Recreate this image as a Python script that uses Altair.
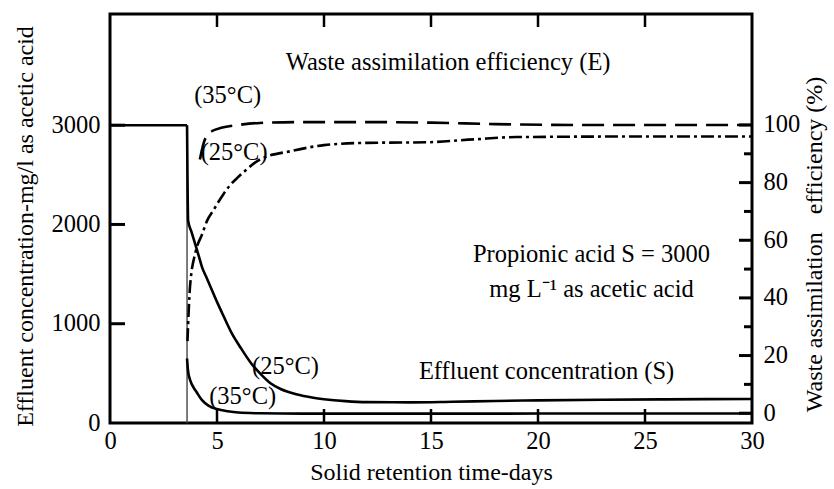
import altair as alt
import pandas as pd

# ---------------- data ----------------
days_ticks = [0, 5, 10, 15, 20, 25, 30]
s_ticks = [0, 1000, 2000, 3000]
e_ticks = [0, 20, 40, 60, 80, 100]
e_minor = [10, 30, 50, 70, 90]
inner_day_ticks = [5, 10, 15, 20, 25]
inner_s_ticks = [1000, 2000, 3000]

# influent (feed) concentration line and washout SRT
feed_x = [0, 3.6]
feed_s = [3000, 3000]
washout_x = [3.6]
washout_top = [3000]

# effluent concentration S, 25 C (solid)
s25_x = [3.6, 3.62, 3.65, 3.8, 4.0, 4.15, 4.3, 4.5, 4.7, 5.0, 5.3, 5.7, 6.1, 6.6,
         7.1, 7.5, 8.0, 8.7, 9.5, 10, 11, 12, 14, 16, 18, 20, 23, 26, 30]
s25_y = [3000, 2500, 2040, 1930, 1790, 1680, 1570, 1470, 1370, 1220, 1080, 900, 760, 600,
         480, 400, 340, 290, 255, 240, 220, 210, 208, 214, 222, 228, 234, 238, 242]

# effluent concentration S, 35 C (solid)
s35_x = [3.6, 3.65, 3.75, 3.9, 4.05, 4.3, 4.6, 5.0, 5.5, 6.0, 7.0, 8.0, 10, 15, 20, 25, 30]
s35_y = [650, 520, 430, 360, 310, 230, 175, 140, 118, 105, 98, 95, 94, 94, 95, 96, 96]

# waste assimilation efficiency E, 35 C (dashed)
e35_x = [4.2, 4.35, 4.5, 4.8, 5.2, 6.0, 7.0, 9.0, 12, 15, 18, 22, 26, 30]
e35_y = [88, 93, 96, 98, 99, 100, 100.7, 101, 101, 100.8, 100.3, 100, 100, 100]

# waste assimilation efficiency E, 25 C (dash-dot)
e25_x = [3.62, 3.74, 4.0, 4.3, 4.55, 4.8, 5.0, 5.3, 5.6, 6.0, 6.3, 7.0, 8.5, 10,
         12, 14.8, 17, 19, 25, 30]
e25_y = [25, 44, 56, 62, 67, 70, 72.5, 76, 79, 82, 84, 88, 91, 93,
         93.8, 94, 95, 95.8, 96, 96]

annotations = [
    "Waste assimilation efficiency (E)",
    "(35°C)",
    "(25°C)",
    "Propionic acid S = 3000",
    "mg L\u207b\u00b9 as acetic acid",
    "(25°C)",
    "Effluent concentration (S)",
    "(35°C)",
]

# ---------------- layout / style ----------------
W, H = 642, 409
FONT = "Liberation Serif"
FS = 24.5
TFS = 24
LW = 2.6

x_scale = alt.Scale(domain=[0, 30], nice=False, zero=False)
s_scale = alt.Scale(domain=[0, 4120], nice=False, zero=False)
e_scale = alt.Scale(domain=[-3.4, 138.5], nice=False, zero=False)

x_axis = alt.Axis(values=days_ticks, format="d", ticks=False, domain=False, grid=False,
                  orient="bottom", labelPadding=6, labelFlush=False, labelOverlap=False,
                  title="Solid retention time-days", titlePadding=8)
left_axis = alt.Axis(values=s_ticks, format="d", ticks=False, domain=False, grid=False,
                     orient="left", labelPadding=10, labelFlush=False, labelOverlap=False,
                     title="Effluent concentration-mg/l as acetic acid", titlePadding=14,
                     titleY=212)
right_axis = alt.Axis(values=e_ticks, format="d", ticks=False, domain=False, grid=False,
                      orient="right", labelPadding=11, labelFlush=False, labelOverlap=False,
                      title="Waste assimilation\u00a0\u00a0 efficiency (%)", titleAngle=270,
                      titleBaseline="top", titlePadding=3, titleY=230)


def line_df(xs, ys):
    return pd.DataFrame({"d": xs, "v": ys})


def xenc():
    return alt.X("d:Q", scale=x_scale, axis=x_axis)


feed = alt.Chart(line_df(feed_x, feed_s)).mark_line(color="black", strokeWidth=LW).encode(
    x=xenc(),
    y=alt.Y("v:Q", scale=s_scale, axis=left_axis),
)

washout = alt.Chart(pd.DataFrame({"d": washout_x, "top": washout_top})).mark_rule(
    color="#444444", strokeWidth=1.4).encode(
    x=xenc(),
    y=alt.Y("top:Q", scale=s_scale, axis=None),
    y2=alt.datum(0),
)

s25 = alt.Chart(line_df(s25_x, s25_y)).mark_line(color="black", strokeWidth=LW,
                                                 interpolate="monotone").encode(
    x=xenc(),
    y=alt.Y("v:Q", scale=s_scale, axis=None),
)
s35 = alt.Chart(line_df(s35_x, s35_y)).mark_line(color="black", strokeWidth=LW,
                                                 interpolate="monotone").encode(
    x=xenc(),
    y=alt.Y("v:Q", scale=s_scale, axis=None),
)

left_ticks = alt.Chart(pd.DataFrame({"v": inner_s_ticks})).mark_rule(
    color="black", strokeWidth=3).encode(
    y=alt.Y("v:Q", scale=s_scale, axis=None),
    x=alt.value(0), x2=alt.value(15),
)
top_ticks = alt.Chart(pd.DataFrame({"d": inner_day_ticks})).mark_rule(
    color="black", strokeWidth=2.5).encode(
    x=xenc(),
    y=alt.value(0), y2=alt.value(13),
)
bottom_ticks = alt.Chart(pd.DataFrame({"d": inner_day_ticks})).mark_rule(
    color="black", strokeWidth=2.5).encode(
    x=xenc(),
    y=alt.value(H), y2=alt.value(H - 14),
)

ann_pos_d = [15.8, 5.5, 5.8, 22.5, 22.5, 8.2, 20.4, 6.2]
ann_pos_s = [3626, 3293, 2719, 1690, 1340, 560, 511, 260]
ann_df = pd.DataFrame({"t": annotations, "d": ann_pos_d, "v": ann_pos_s})
texts = alt.Chart(ann_df).mark_text(font=FONT, fontSize=FS, color="black",
                                    align="center", baseline="middle").encode(
    x=xenc(),
    y=alt.Y("v:Q", scale=s_scale, axis=None),
    text="t:N",
)

e35 = alt.Chart(line_df(e35_x, e35_y)).mark_line(
    color="black", strokeWidth=LW, strokeDash=[22, 9], interpolate="monotone").encode(
    x=xenc(),
    y=alt.Y("v:Q", scale=e_scale, axis=right_axis),
)
e25 = alt.Chart(line_df(e25_x, e25_y)).mark_line(
    color="black", strokeWidth=LW, strokeDash=[13, 4, 3, 4], interpolate="monotone").encode(
    x=xenc(),
    y=alt.Y("v:Q", scale=e_scale, axis=None),
)
right_major = alt.Chart(pd.DataFrame({"v": e_ticks})).mark_rule(
    color="black", strokeWidth=3).encode(
    y=alt.Y("v:Q", scale=e_scale, axis=None),
    x=alt.value(W - 13), x2=alt.value(W),
)
right_minor = alt.Chart(pd.DataFrame({"v": e_minor})).mark_rule(
    color="black", strokeWidth=3).encode(
    y=alt.Y("v:Q", scale=e_scale, axis=None),
    x=alt.value(W - 8), x2=alt.value(W),
)

chart = alt.layer(
    feed, e35, washout, s25, s35, e25,
    left_ticks, top_ticks, bottom_ticks, right_major, right_minor, texts,
).resolve_scale(y="independent").properties(
    width=W, height=H,
    autosize=alt.AutoSizeParams(type="none"),
    padding={"left": 110, "top": 14, "right": 82, "bottom": 66},
    background="white",
).configure_view(
    stroke="black", strokeWidth=3,
).configure_axis(
    labelFont=FONT, labelFontSize=FS, labelColor="black",
    titleFont=FONT, titleFontSize=TFS, titleFontWeight="normal", titleColor="black",
)

chart.save("out.html", embed_options={"renderer": "svg", "actions": False})
